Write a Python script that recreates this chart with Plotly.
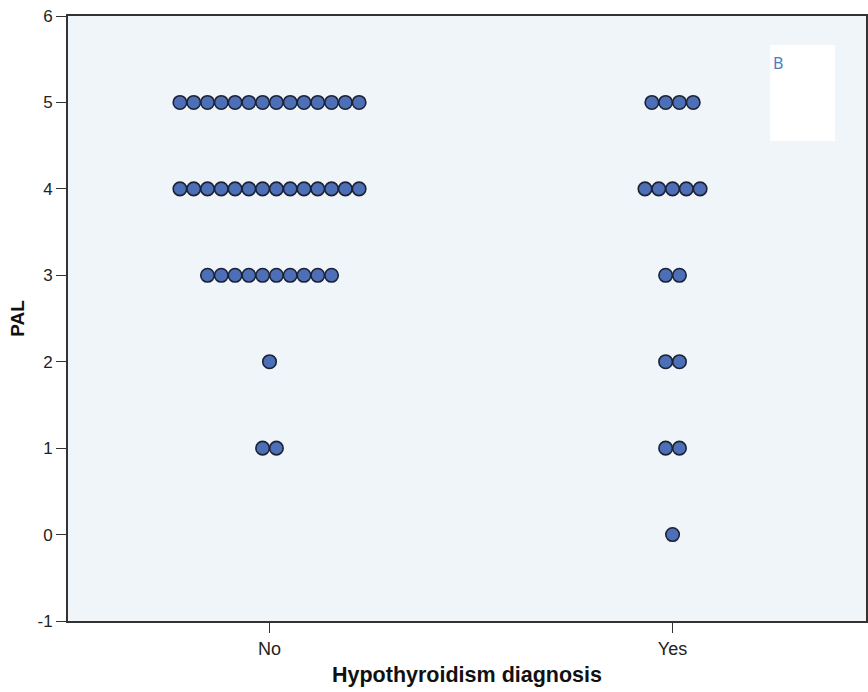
import plotly.graph_objects as go

# PAL score levels and how many patients sit at each level, per diagnosis group
groups = ["No", "Yes"]
pal_levels = [0, 1, 2, 3, 4, 5]
counts_no = [0, 2, 1, 10, 14, 14]
counts_yes = [1, 2, 2, 2, 5, 4]

y_ticks = [-1, 0, 1, 2, 3, 4, 5, 6]
y_tick_text = ["-1", "0", "1", "2", "3", "4", "5", "6"]

STEP = 0.0342  # horizontal gap between stacked dots, in category units


def dot_positions(center, levels, counts):
    xs, ys = [], []
    for lvl, n in zip(levels, counts):
        for i in range(n):
            xs.append(center + (i - (n - 1) / 2) * STEP)
            ys.append(lvl)
    return xs, ys


fig = go.Figure()
for gi, (name, cnts) in enumerate(zip(groups, [counts_no, counts_yes])):
    xs, ys = dot_positions(gi, pal_levels, cnts)
    fig.add_trace(go.Scatter(
        x=xs, y=ys, mode="markers", name=name, showlegend=False,
        marker=dict(size=13.5, color="#4D6FB7",
                    line=dict(color="#1C2233", width=1.6)),
        hoverinfo="y",
    ))

fig.update_layout(
    width=868, height=692,
    margin=dict(l=68, r=0, t=16, b=71),
    paper_bgcolor="white",
    plot_bgcolor="#F0F5FA",
    font=dict(family="Liberation Sans, Arial, sans-serif", size=17, color="#222"),
    xaxis=dict(
        range=[-0.5, 1.48],
        tickmode="array", tickvals=[0, 1], ticktext=groups,
        showgrid=False, zeroline=False,
        showline=True, linecolor="#333", linewidth=2, mirror=True,
        ticks="outside", ticklen=10, tickcolor="#333", tickwidth=1,
        tickfont=dict(size=18),
        title=dict(text="<b>Hypothyroidism diagnosis</b>", font=dict(size=21.5, color="#111"), standoff=9),
    ),
    yaxis=dict(
        range=[-1, 6],
        tickmode="array", tickvals=y_ticks, ticktext=y_tick_text,
        showgrid=False, zeroline=False,
        showline=True, linecolor="#333", linewidth=2, mirror=True,
        ticks="outside", ticklen=10, tickcolor="#333", tickwidth=1,
        tickfont=dict(size=17),
        title=dict(text="<b>PAL</b>", font=dict(size=19, color="#111"), standoff=8),
    ),
    shapes=[dict(
        type="rect", xref="paper", yref="paper",
        x0=(772 - 68) / 800, x1=(837 - 68) / 800,
        y0=(621 - 141) / 605, y1=(621 - 45) / 605,
        fillcolor="white", line=dict(width=0), layer="above",
    )],
    annotations=[dict(
        text="B", xref="paper", yref="paper",
        x=(773 - 68) / 800, y=(621 - 50) / 605,
        xanchor="left", yanchor="top", showarrow=False,
        font=dict(family="Noto Sans, Open Sans, sans-serif", size=16, color="#4A7EC2"),
    )],
)

fig.write_html("out.html")
